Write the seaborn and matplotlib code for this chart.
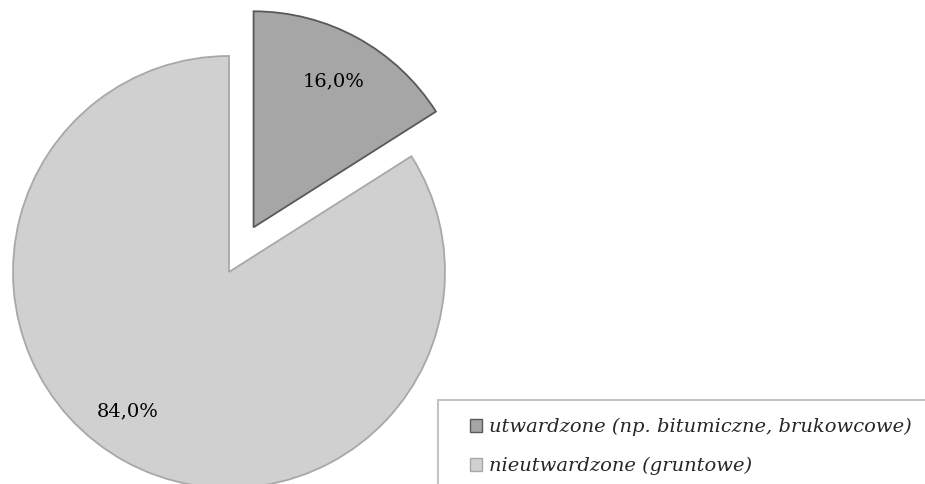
import numpy as np
import matplotlib
matplotlib.use("Agg")
import matplotlib.pyplot as plt
from matplotlib.patches import Patch, Rectangle
import seaborn as sns

# Road surface structure
categories = ["utwardzone (np. bitumiczne, brukowcowe)", "nieutwardzone (gruntowe)"]
shares = [16.0, 84.0]
fill_colors = ["#a6a6a6", "#d0d0d0"]
edge_colors = ["#595959", "#a8a8a8"]

sns.set_theme(style="white")
plt.rcParams["font.family"] = ["DejaVu Serif"]

W, H = 925, 484
fig = plt.figure(figsize=(W / 100, H / 100), dpi=100)
ax = fig.add_axes([0, 0, 1, 1])

radius = 216
center = (229, H - 272)

wedges, texts, autotexts = ax.pie(
    shares,
    colors=fill_colors,
    startangle=90,
    counterclock=False,
    radius=radius,
    center=center,
    explode=[51, 0],
    autopct=lambda p: f"{p:.1f}%".replace(".", ","),
    pctdistance=0.77,
    textprops=dict(fontsize=14, color="black"),
    frame=True,
)
ax.set_xlim(0, W)
ax.set_ylim(0, H)
ax.axis("off")
for w, ec in zip(wedges, edge_colors):
    w.set_edgecolor(ec)
    w.set_linewidth(1.3)

# place the large-slice label a bit further round, towards the lower left
ang = np.deg2rad(-126)
autotexts[1].set_position((center[0] + 172 * np.cos(ang), center[1] + 172 * np.sin(ang)))

# legend frame, running off the right and bottom edges
fig.patches.append(Rectangle((438 / W, -0.1), 1.0, 1 - 400 / H + 0.1,
                             transform=fig.transFigure, facecolor="white",
                             edgecolor="#c4c4c4", linewidth=1.5, zorder=0.5))

handles = [Patch(facecolor=fc, edgecolor=ec, linewidth=1.0) for fc, ec in zip(fill_colors, edge_colors)]
leg = fig.legend(
    handles, categories,
    loc="upper left",
    bbox_to_anchor=(470 / W, 1 - 418 / H),
    frameon=False,
    prop=dict(family="DejaVu Serif", style="italic", size=14),
    handlelength=0.62,
    handleheight=0.62,
    handletextpad=0.36,
    labelspacing=1.06,
    borderpad=0,
    borderaxespad=0,
)

fig.savefig("out.png", dpi=100, facecolor="white")
